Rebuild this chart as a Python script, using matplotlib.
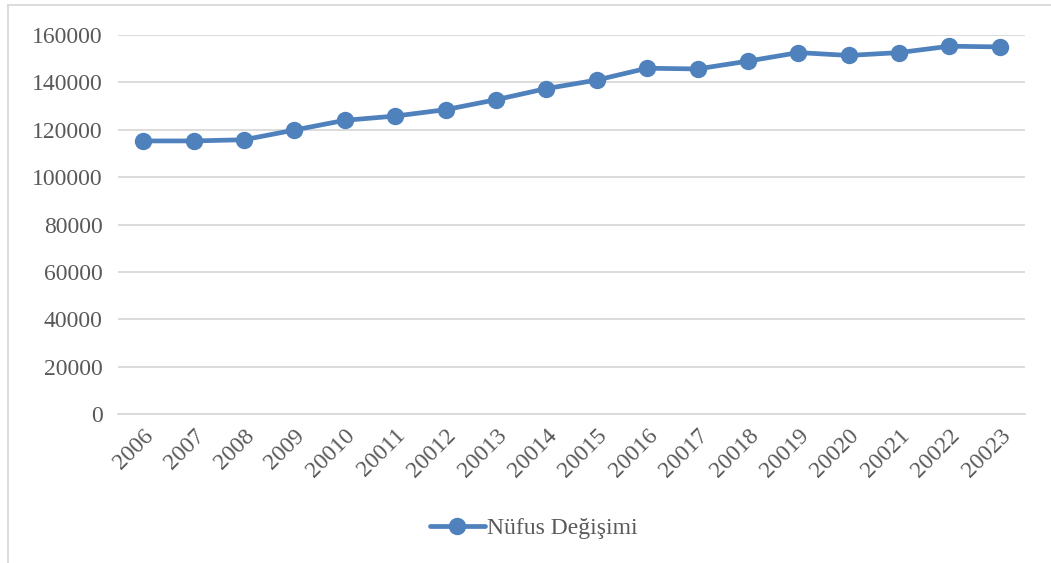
import matplotlib
matplotlib.use("Agg")
from matplotlib import pyplot as plt
from matplotlib.lines import Line2D

# Chart data
years = ["2006", "2007", "2008", "2009", "20010", "20011", "20012", "20013", "20014",
         "20015", "20016", "20017", "20018", "20019", "20020", "20021", "20022", "20023"]
population = [115300, 115300, 115800, 119900, 124000, 125800, 128500, 132700, 137400,
              141000, 146000, 145700, 149000, 152600, 151400, 152600, 155300, 155000]
y_ticks = [0, 20000, 40000, 60000, 80000, 100000, 120000, 140000, 160000]
series_name = "Nüfus Değişimi"

line_color = "#4F81BD"
text_color = "#595959"
grid_color = "#D9D9D9"

plt.rcParams["font.family"] = ["Liberation Serif", "DejaVu Serif"]

fig = plt.figure(figsize=(10.51, 5.63), dpi=100)
ax = fig.add_axes([0.1123, 0.2647, 0.863, 0.673])

x = list(range(len(years)))
ax.plot(x, population, color=line_color, linewidth=3.4, marker="o",
        markersize=11.5, label=series_name, solid_capstyle="round")

ax.set_xlim(-0.5, len(years) - 0.5)
ax.set_ylim(0, 160000)
ax.set_yticks(y_ticks)
ax.set_yticklabels([str(v) for v in y_ticks], fontsize=17, color=text_color)
ax.set_xticks(x)
ax.set_xticklabels(years, fontsize=17, color=text_color, rotation=45,
                   ha="right", va="top", rotation_mode="anchor")
ax.tick_params(axis="both", length=0)
ax.tick_params(axis="y", pad=11)
ax.tick_params(axis="x", pad=8)

ax.grid(axis="y", color=grid_color, linewidth=1.3)
ax.set_axisbelow(True)
for side in ["top", "right", "left"]:
    ax.spines[side].set_visible(False)
ax.spines["bottom"].set_color(grid_color)
ax.spines["bottom"].set_linewidth(1.3)

leg = fig.legend(loc="center", bbox_to_anchor=(0.508, 0.062), frameon=False,
                 fontsize=17, handlelength=2.3, handletextpad=0.1)
for t in leg.get_texts():
    t.set_color(text_color)

# chart frame (only left and top edges are visible)
fig.add_artist(Line2D([8 / 1051, 8 / 1051], [0, 1 - 5 / 563],
                      transform=fig.transFigure, color=grid_color, linewidth=1.3))
fig.add_artist(Line2D([8 / 1051, 1], [1 - 5 / 563, 1 - 5 / 563],
                      transform=fig.transFigure, color=grid_color, linewidth=1.3))

fig.savefig("out.png", dpi=100)
